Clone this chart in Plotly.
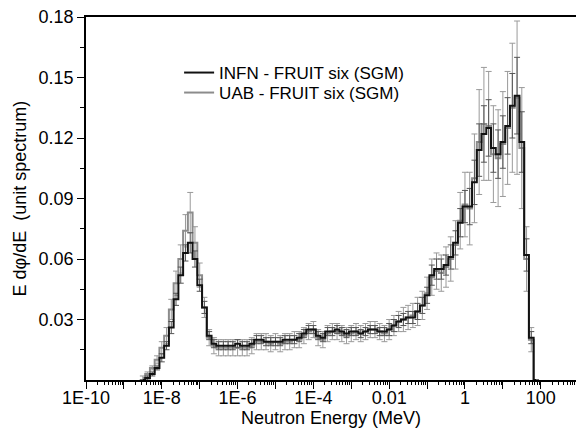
import plotly.graph_objects as go

# log10 of bin-centre energies (MeV), 8 bins per decade
log_energy = [
    -8.500, -8.375, -8.250, -8.125, -8.000, -7.875, -7.750, -7.625,
    -7.500, -7.375, -7.250, -7.125, -7.000, -6.875, -6.750, -6.625,
    -6.500, -6.375, -6.250, -6.125, -6.000, -5.875, -5.750, -5.625,
    -5.500, -5.375, -5.250, -5.125, -5.000, -4.875, -4.750, -4.625,
    -4.500, -4.375, -4.250, -4.125, -4.000, -3.875, -3.750, -3.625,
    -3.500, -3.375, -3.250, -3.125, -3.000, -2.875, -2.750, -2.625,
    -2.500, -2.375, -2.250, -2.125, -2.000, -1.875, -1.750, -1.625,
    -1.500, -1.375, -1.250, -1.125, -1.000, -0.875, -0.750, -0.625,
    -0.500, -0.375, -0.250, -0.125, 0.000, 0.125, 0.250, 0.375,
    0.500, 0.625, 0.750, 0.875, 1.000, 1.125, 1.250, 1.375,
    1.500, 1.625, 1.750, 1.875,
]

infn = [
    0.000, 0.001, 0.003, 0.006, 0.011, 0.017, 0.026, 0.040,
    0.052, 0.063, 0.068, 0.060, 0.047, 0.036, 0.022, 0.018,
    0.017, 0.017, 0.017, 0.017, 0.018, 0.017, 0.017, 0.018,
    0.020, 0.020, 0.019, 0.019, 0.019, 0.019, 0.020, 0.020,
    0.020, 0.021, 0.023, 0.025, 0.025, 0.022, 0.021, 0.024,
    0.024, 0.025, 0.024, 0.023, 0.024, 0.024, 0.023, 0.024,
    0.025, 0.025, 0.024, 0.024, 0.025, 0.027, 0.029, 0.030,
    0.031, 0.031, 0.034, 0.037, 0.042, 0.052, 0.055, 0.055,
    0.057, 0.061, 0.068, 0.078, 0.086, 0.086, 0.098, 0.114,
    0.122, 0.125, 0.115, 0.112, 0.118, 0.126, 0.136, 0.141,
    0.118, 0.062, 0.021, 0.000,
]

uab = [
    0.001, 0.003, 0.006, 0.010, 0.016, 0.022, 0.035, 0.048,
    0.060, 0.074, 0.083, 0.068, 0.052, 0.036, 0.021, 0.017,
    0.016, 0.016, 0.016, 0.016, 0.016, 0.016, 0.016, 0.017,
    0.019, 0.019, 0.019, 0.018, 0.019, 0.018, 0.019, 0.019,
    0.020, 0.020, 0.022, 0.024, 0.025, 0.021, 0.020, 0.023,
    0.024, 0.024, 0.023, 0.022, 0.023, 0.024, 0.023, 0.024,
    0.025, 0.025, 0.024, 0.023, 0.025, 0.027, 0.029, 0.030,
    0.031, 0.032, 0.034, 0.037, 0.043, 0.051, 0.054, 0.053,
    0.056, 0.060, 0.067, 0.079, 0.087, 0.085, 0.100, 0.118,
    0.127, 0.126, 0.112, 0.110, 0.117, 0.125, 0.135, 0.140,
    0.115, 0.060, 0.020, 0.000,
]

uab_err = [
    0.001, 0.001, 0.001, 0.002, 0.003, 0.004, 0.005, 0.006,
    0.007, 0.008, 0.010, 0.008, 0.006, 0.005, 0.004, 0.004,
    0.004, 0.004, 0.004, 0.004, 0.004, 0.004, 0.004, 0.004,
    0.004, 0.004, 0.004, 0.004, 0.004, 0.004, 0.004, 0.004,
    0.004, 0.004, 0.004, 0.004, 0.004, 0.004, 0.004, 0.004,
    0.004, 0.004, 0.004, 0.004, 0.004, 0.004, 0.004, 0.004,
    0.004, 0.004, 0.004, 0.004, 0.005, 0.005, 0.005, 0.006,
    0.006, 0.006, 0.007, 0.007, 0.008, 0.009, 0.009, 0.009,
    0.010, 0.011, 0.012, 0.014, 0.016, 0.018, 0.022, 0.026,
    0.028, 0.027, 0.024, 0.024, 0.026, 0.028, 0.032, 0.038,
    0.030, 0.016, 0.006, 0.000,
]

infn_err = [
    0.000, 0.001, 0.001, 0.001, 0.002, 0.002, 0.003, 0.003,
    0.004, 0.004, 0.005, 0.004, 0.003, 0.003, 0.002, 0.002,
    0.002, 0.002, 0.002, 0.002, 0.002, 0.002, 0.002, 0.002,
    0.002, 0.002, 0.002, 0.002, 0.002, 0.002, 0.002, 0.002,
    0.002, 0.002, 0.002, 0.002, 0.002, 0.002, 0.002, 0.002,
    0.002, 0.002, 0.002, 0.002, 0.002, 0.002, 0.002, 0.002,
    0.002, 0.002, 0.002, 0.002, 0.003, 0.003, 0.003, 0.003,
    0.003, 0.003, 0.004, 0.004, 0.004, 0.005, 0.005, 0.005,
    0.005, 0.006, 0.006, 0.007, 0.008, 0.009, 0.011, 0.013,
    0.014, 0.014, 0.012, 0.012, 0.013, 0.014, 0.016, 0.019,
    0.015, 0.008, 0.003, 0.000,
]

energy = [10 ** v for v in log_energy]

major_vals = [1e-10, 1e-9, 1e-8, 1e-7, 1e-6, 1e-5, 1e-4, 1e-3, 1e-2, 1e-1, 1, 10, 100]
major_text = ["1E-10", "", "1E-8", "", "1E-6", "", "1E-4", "", "0.01", "", "1", "", "100"]
minor_vals = [k * 10.0 ** e for e in range(-10, 3) for k in range(2, 10)]

y_major = [0.03, 0.06, 0.09, 0.12, 0.15, 0.18]
y_text = ["0.03", "0.06", "0.09", "0.12", "0.15", "0.18"]
y_minor = [0.015, 0.045, 0.075, 0.105, 0.135, 0.165]

FONT = "Liberation Sans, Arial, sans-serif"

fig = go.Figure()
fig.add_trace(go.Scatter(
    x=energy, y=uab, mode="lines", line_shape="hvh",
    name="UAB - FRUIT six (SGM)", legend="legend2",
    line=dict(color="#8c8c8c", width=2),
    error_y=dict(type="data", array=uab_err, color="#9a9a9a", thickness=1, width=3),
))
fig.add_trace(go.Scatter(
    x=energy, y=infn, mode="lines", line_shape="hvh",
    name="INFN - FRUIT six (SGM)", legend="legend",
    line=dict(color="#111111", width=2),
    error_y=dict(type="data", array=infn_err, color="#555555", thickness=1, width=3),
))

leg_common = dict(
    xanchor="left", yanchor="middle",
    font=dict(family=FONT, size=17, color="black"),
    bgcolor="rgba(0,0,0,0)", borderwidth=0,
)

fig.update_layout(
    width=576, height=437,
    margin=dict(l=86, r=0, t=17, b=57, autoexpand=False),
    paper_bgcolor="white", plot_bgcolor="white",
    font=dict(family=FONT, size=18, color="black"),
    showlegend=True,
    legend=dict(x=0.19, y=1 - (73 - 17) / 363, **leg_common),
    legend2=dict(x=0.19, y=1 - (93 - 17) / 363, **leg_common),
    xaxis=dict(
        type="log", range=[-10, 2.93], automargin=False,
        tickmode="array", tickvals=major_vals, ticktext=major_text,
        ticks="outside", ticklen=7, tickwidth=1, tickcolor="black",
        ticklabelstandoff=-6,
        minor=dict(tickmode="array", tickvals=minor_vals, ticks="outside",
                   ticklen=3, tickwidth=1, tickcolor="black", showgrid=False),
        showline=True, linecolor="black", linewidth=1.5, mirror=True,
        showgrid=False, zeroline=False,
        title=dict(text="Neutron Energy (MeV)", standoff=2,
                   font=dict(family=FONT, size=18, color="black")),
        tickfont=dict(family=FONT, size=18, color="black"),
    ),
    yaxis=dict(
        range=[0, 0.18], automargin=False,
        tickmode="array", tickvals=y_major, ticktext=y_text,
        ticks="outside", ticklen=7, tickwidth=1, tickcolor="black",
        minor=dict(tickmode="array", tickvals=y_minor, ticks="outside",
                   ticklen=4, tickwidth=1, tickcolor="black", showgrid=False),
        showline=True, linecolor="black", linewidth=1.5, mirror=False,
        showgrid=False, zeroline=False,
        tickfont=dict(family=FONT, size=18, color="black"),
    ),
    annotations=[dict(
        text="E d\u03c6/dE  (unit spectrum)", textangle=-90,
        xref="paper", yref="paper", x=(19 - 86) / 490, y=0.5,
        xanchor="center", yanchor="middle", showarrow=False,
        font=dict(family=FONT, size=18, color="black"),
    )],
)

fig.write_html("out.html",
               config={"displayModeBar": False},
               post_script="document.body.style.margin='0px';document.body.style.padding='0px';")
